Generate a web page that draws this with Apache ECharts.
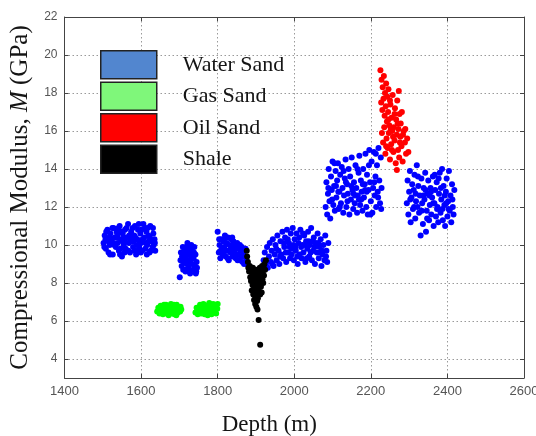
<!DOCTYPE html>
<html>
<head>
<meta charset="utf-8">
<script src="https://cdn.jsdelivr.net/npm/echarts@6/dist/echarts.min.js"></script>
<style>
html,body{margin:0;padding:0;background:#fff;}
#c{width:536px;height:436px;}
</style>
</head>
<body>
<div id="c"></div>
<script>
// ---- data (Depth m, Compressional modulus GPa) ----
var seriesNames = ['Water Sand', 'Gas Sand', 'Oil Sand', 'Shale'];
var xTicks = [1400, 1600, 1800, 2000, 2200, 2400, 2600];
var yTicks = [4, 6, 8, 10, 12, 14, 16, 18, 20, 22];

var waterSand1 = [[1502,10.1],[1505,10.5],[1508,9.8],[1510,10.3],[1512,10.8],[1515,9.6],[1518,10.0],[1520,10.6],[1523,10.2],[1526,9.5],[1528,10.9],[1531,10.4],[1534,9.9],[1536,10.7],[1539,10.1],[1542,9.7],[1544,11.0],[1547,10.3],[1550,9.4],[1552,10.6],[1555,10.0],[1558,10.8],[1560,9.8],[1563,10.4],[1566,11.1],[1568,10.1],[1571,9.6],[1574,10.7],[1576,10.2],[1579,9.9],[1582,10.5],[1584,11.0],[1587,9.5],[1590,10.3],[1592,10.8],[1595,9.9],[1598,10.6],[1600,10.1],[1603,9.7],[1606,11.1],[1608,10.4],[1611,9.8],[1614,10.7],[1616,10.0],[1619,10.5],[1622,9.6],[1624,11.0],[1627,10.2],[1630,9.9],[1632,10.6],[1635,10.3],[1637,9.7],
  [1504,9.9],[1509,10.7],[1514,10.2],[1519,9.5],[1525,10.9],[1530,10.0],[1535,10.4],[1541,10.9],[1546,9.8],[1551,10.2],[1557,9.6],[1562,10.9],[1567,9.7],[1573,10.3],[1578,10.9],[1583,9.7],[1589,10.0],[1594,11.1],[1599,9.6],[1604,10.3],[1610,10.9],[1615,9.5],[1620,10.2],[1625,9.7],[1631,10.9],[1636,10.1],
  [1507,10.3],[1517,10.4],[1527,10.1],[1538,10.5],[1548,10.7],[1558,10.2],[1569,10.5],[1580,10.2],[1591,9.7],[1601,10.8],[1612,10.1],[1623,10.4],[1633,10.0],[1545,9.5],[1585,10.4],[1617,10.9],[1555,10.4],[1596,10.2]];

var waterSand2 = [[1701,8.3],[1703,9.2],[1704,9.6],[1706,8.9],[1707,9.4],[1709,9.9],[1710,8.7],[1712,9.1],[1713,9.7],[1715,9.3],[1716,8.6],[1718,9.9],[1719,9.0],[1721,10.1],[1722,9.5],[1724,8.8],[1725,9.2],[1727,9.8],[1728,8.5],[1730,9.4],[1731,10.0],[1733,9.0],[1734,9.6],[1736,8.7],[1737,9.3],[1739,9.9],[1740,8.9],[1742,9.5],[1743,8.5],[1745,9.1],[1746,8.8],[1720,9.6],[1729,9.1],[1738,9.6],[1711,9.5],[1726,8.6],[1744,8.6],[1717,8.7],[1732,9.7],[1723,10.0]];

var waterSand3 = [[1800,10.7],[1803,9.6],[1805,10.0],[1807,9.3],[1809,10.3],[1811,9.8],[1813,9.5],[1815,10.2],[1817,9.9],[1819,10.5],[1821,9.4],[1823,10.1],[1825,9.7],[1827,10.4],[1829,9.2],[1831,10.0],[1833,9.6],[1835,10.3],[1837,9.9],[1839,9.4],[1841,10.2],[1843,9.7],[1845,10.0],[1847,9.3],[1849,9.8],[1851,10.1],[1853,9.5],[1855,9.9],[1857,9.2],[1859,9.7],[1861,9.4],[1863,9.9],[1865,9.1],[1867,9.6],[1869,9.0],[1871,9.4],[1873,9.8],[1875,9.2],[1877,9.0],[1808,9.7],[1816,9.6],[1826,9.3],[1834,9.8],[1844,9.5],[1852,9.2],[1804,10.3],[1822,10.4],[1838,10.4],[1858,10.0],[1866,9.7]];

var waterSand4 = [[1920,9.2],[1923,9.6],[1926,9.0],[1929,9.9],[1931,8.8],[1934,9.4],[1936,10.1],[1939,9.1],[1941,9.7],[1944,10.3],[1946,8.9],[1949,9.5],[1951,10.0],[1954,9.2],[1956,10.5],[1959,9.7],[1961,9.0],[1964,10.2],[1966,9.5],[1969,10.7],[1971,9.3],[1974,9.9],[1976,10.4],[1979,9.1],[1981,10.8],[1984,9.6],[1986,10.1],[1989,9.3],[1991,10.6],[1994,9.8],[1996,10.9],[1999,9.2],[2001,10.3],[2004,9.7],[2006,10.6],[2009,9.0],[2011,10.1],[2014,9.5],[2016,10.8],[2019,9.3],[2021,10.0],[2024,9.6],[2026,10.5],[2029,9.1],[2031,10.2],[2034,9.8],[2036,10.7],[2039,9.4],[2041,10.0],[2044,10.9],[2046,9.2],[2049,9.7],[2051,10.4],[2054,9.0],[2056,10.1],[2059,9.6],[2061,10.6],[2064,9.3],[2066,9.9],[2069,10.3],[2071,8.9],[2074,9.5],[2076,10.0],[2079,9.2],[2081,10.5],[2084,9.7],[2086,9.1],[2089,10.1],
  [1943,9.0],[1953,9.8],[1963,9.4],[1973,10.1],[1983,10.3],[1993,9.5],[2003,9.9],[2013,10.4],[2023,10.6],[2033,9.3],[2043,9.6],[2053,9.9],[2063,10.1],[2073,9.7],[2083,9.4],[1978,9.6],[1998,10.0],[2018,9.9],[2038,10.2],[2058,10.0],[1988,9.9],[2008,9.4],[2028,10.0],[2048,10.2],[2068,9.6]];

var waterSand5 = [[2082,12.0],[2084,13.3],[2086,11.6],[2088,12.7],[2090,14.0],[2092,12.3],[2094,11.4],[2096,13.6],[2098,12.9],[2100,14.4],[2102,12.1],[2104,13.1],[2106,11.8],[2108,13.9],[2110,12.5],[2112,13.4],[2114,14.3],[2116,11.9],[2118,12.8],[2120,13.7],[2122,12.2],[2124,14.1],[2126,13.0],[2128,11.7],[2130,12.6],[2132,13.5],[2134,14.5],[2136,12.0],[2138,13.2],[2140,12.7],[2142,14.0],[2144,11.6],[2146,13.6],[2148,12.4],[2150,14.6],[2152,12.9],[2154,11.9],[2156,13.3],[2158,12.2],[2160,14.2],[2162,13.0],[2164,11.7],[2166,12.6],[2168,13.8],[2170,14.7],[2172,12.1],[2174,13.4],[2176,12.8],[2178,11.8],[2180,14.0],[2182,12.5],[2184,13.2],[2186,14.8],[2188,12.0],[2190,13.7],[2192,11.6],[2194,12.9],[2196,15.0],[2198,13.3],[2200,12.3],[2202,14.4],[2204,11.7],[2206,13.0],[2208,14.9],[2210,12.6],[2212,13.6],[2214,12.0],[2216,14.2],[2218,12.8],[2220,15.1],[2222,13.4],[2224,12.2],[2226,14.6],[2228,13.0],
  [2089,13.0],[2099,12.4],[2109,13.1],[2119,12.0],[2129,13.9],[2139,12.3],[2149,13.1],[2159,12.6],[2169,12.4],[2179,13.2],[2189,12.8],[2199,11.6],[2209,13.3],[2219,12.5],[2227,11.9],[2115,12.8],[2135,13.3],[2155,12.7],[2175,12.4],[2195,14.2],[2213,14.8],[2105,14.3],[2165,14.0],[2185,12.9]];

var waterSand6 = [[2294,12.2],[2296,13.4],[2298,11.6],[2300,12.8],[2302,13.9],[2304,11.2],[2306,12.5],[2308,13.2],[2310,11.9],[2312,12.9],[2314,13.7],[2316,11.4],[2318,12.3],[2320,14.2],[2322,12.0],[2324,13.1],[2326,11.7],[2328,12.6],[2330,10.5],[2332,13.5],[2334,12.2],[2336,11.1],[2338,13.0],[2340,12.4],[2342,13.8],[2344,10.7],[2346,11.8],[2348,12.7],[2350,13.4],[2352,11.3],[2354,12.1],[2356,13.0],[2358,11.6],[2360,12.5],[2362,13.6],[2364,11.0],[2366,12.2],[2368,12.9],[2370,11.5],[2372,13.3],[2374,12.0],[2376,11.2],[2378,12.7],[2380,13.8],[2382,11.7],[2384,12.4],[2386,14.0],[2388,11.3],[2390,13.1],[2392,12.1],[2394,11.0],[2396,12.8],[2398,13.5],[2400,11.5],[2402,12.3],[2404,13.9],[2406,11.8],[2408,12.6],[2410,11.2],[2412,13.2],[2414,12.0],[2416,11.6],[2418,12.9],
  [2303,12.4],[2313,12.0],[2323,13.6],[2333,11.8],[2343,12.9],[2353,12.6],[2363,12.2],[2373,11.9],[2383,13.0],[2393,12.6],[2403,11.9],[2413,12.4],[2317,12.7],[2337,12.6],[2357,12.8],[2377,13.5],[2397,12.2],[2347,11.4],[2367,13.7],[2387,11.9]];

var gasSand1 = [[1642,6.5],[1645,6.7],[1648,6.4],[1651,6.8],[1654,6.55],[1657,6.35],[1660,6.85],[1663,6.6],[1666,6.4],[1669,6.75],[1672,6.3],[1675,6.55],[1678,6.9],[1681,6.45],[1684,6.7],[1687,6.35],[1690,6.6],[1693,6.85],[1696,6.45],[1699,6.7],[1702,6.5],[1705,6.6],[1650,6.55],[1659,6.6],[1668,6.55],[1677,6.4],[1686,6.85],[1695,6.6],[1703,6.75],[1665,6.85],[1680,6.65],[1692,6.3]];

var gasSand2 = [[1742,6.45],[1745,6.7],[1748,6.35],[1751,6.6],[1754,6.85],[1757,6.4],[1760,6.65],[1763,6.9],[1766,6.35],[1769,6.55],[1772,6.8],[1775,6.45],[1778,6.95],[1781,6.6],[1784,6.35],[1787,6.75],[1790,6.5],[1793,6.85],[1796,6.4],[1799,6.65],[1800,6.9],[1750,6.5],[1759,6.85],[1768,6.65],[1777,6.7],[1786,6.55],[1795,6.65],[1774,6.3],[1788,6.9]];

var oilSand = [[2225,19.2],[2228,18.7],[2231,18.3],[2234,18.9],[2237,18.0],[2240,18.5],[2243,17.8],[2246,18.2],[2250,17.6],[2273,18.1],[2227,17.5],[2230,17.1],[2233,17.7],[2236,16.8],[2239,17.3],[2242,16.5],[2245,17.0],[2248,16.3],[2251,17.4],[2254,16.7],[2257,17.9],[2260,16.2],[2263,17.2],[2266,16.6],[2269,17.6],[2272,16.1],[2275,16.9],[2278,16.4],[2281,17.0],[2229,15.9],[2232,15.4],[2235,16.2],[2238,14.8],[2241,15.6],[2244,15.1],[2247,15.9],[2250,14.5],[2253,15.3],[2256,16.0],[2259,14.9],[2262,15.5],[2265,14.3],[2268,15.8],[2271,15.0],[2274,14.6],[2277,15.7],[2280,15.2],[2283,14.4],[2286,16.0],[2289,15.4],[2292,14.8],[2295,15.6],[2298,14.9],[2268,13.95],[2258,15.7],[2270,16.4],[2246,16.6],[2255,15.0],[2284,15.8],[2262,16.9],[2290,16.1],[2240,15.2],[2252,16.1],[2276,15.4]];

var shale = [[1876,9.7],[1877,9.4],[1879,9.1],[1880,8.8],[1882,8.6],[1884,8.9],[1885,8.3],[1887,8.1],[1888,8.6],[1889,7.6],[1890,8.4],[1891,7.9],[1892,8.8],[1893,7.4],[1894,8.2],[1895,7.7],[1896,8.5],[1897,8.0],[1898,7.3],[1899,7.9],[1900,8.7],[1901,7.5],[1902,8.3],[1903,7.8],[1904,8.6],[1905,7.2],[1906,8.1],[1907,7.6],[1908,8.4],[1909,7.9],[1910,8.8],[1911,7.4],[1912,8.2],[1913,7.8],[1914,8.6],[1915,7.5],[1916,8.9],[1917,8.2],[1918,8.6],[1919,8.0],[1920,8.9],[1921,8.4],[1922,9.0],[1924,8.7],[1926,9.2],[1898,6.9],[1901,6.75],[1904,6.6],[1907,6.05],[1911,4.75],[1895,7.1],[1903,7.05]];

var waterSand = [].concat(waterSand1, waterSand2, waterSand3, waterSand4, waterSand5, waterSand6);
var gasSand = [].concat(gasSand1, gasSand2);

var chart = echarts.init(document.getElementById('c'), null, {renderer: 'canvas'});
var frameColor = '#444';
var gridLine = {show: true, lineStyle: {color: '#9a9a9a', type: [1.5, 2.5], width: 1}};
var serif = '"Liberation Serif","Times New Roman",serif';
var sans = '"Liberation Sans",Arial,sans-serif';
var symSize = 6;

chart.setOption({
  animation: false,
  backgroundColor: '#fff',
  grid: {left: 64.5, right: 12, top: 17, bottom: 58, containLabel: false, outerBoundsMode: 'none'},
  legend: {
    orient: 'vertical', left: 100, top: 50, padding: 0,
    icon: 'rect', itemWidth: 56, itemHeight: 28, itemGap: 2,
    selectedMode: false,
    textStyle: {fontFamily: serif, fontSize: 22, color: '#151515', padding: [0, 0, 0, 21]},
    data: [
      {name: seriesNames[0], itemStyle: {color: '#5286cf', borderColor: '#222', borderWidth: 1.5}},
      {name: seriesNames[1], itemStyle: {color: '#7ff77a', borderColor: '#222', borderWidth: 1.5}},
      {name: seriesNames[2], itemStyle: {color: '#ff0000', borderColor: '#222', borderWidth: 1.5}},
      {name: seriesNames[3], itemStyle: {color: '#000000', borderColor: '#222', borderWidth: 1.5}}
    ]
  },
  xAxis: [{
    type: 'value', min: xTicks[0], max: xTicks[xTicks.length - 1], interval: 200,
    axisLine: {show: true, onZero: false, lineStyle: {color: frameColor, width: 1}},
    axisTick: {show: true, inside: true, length: 4, lineStyle: {color: frameColor}},
    axisLabel: {color: '#555', fontFamily: sans, fontSize: 13, margin: 7, formatter: function (v) { return String(v); }},
    splitLine: gridLine,
    name: 'Depth (m)', nameLocation: 'middle', nameGap: 35,
    nameTextStyle: {fontFamily: serif, fontSize: 23, color: '#151515', padding: [0, 50, 0, 0]}
  }, {
    type: 'value', position: 'top', min: xTicks[0], max: xTicks[xTicks.length - 1], interval: 200,
    axisLine: {show: true, onZero: false, lineStyle: {color: frameColor, width: 1}},
    axisTick: {show: true, inside: true, length: 4, lineStyle: {color: frameColor}},
    axisLabel: {show: false}, splitLine: {show: false}
  }],
  yAxis: [{
    type: 'value', min: 3, max: 22,
    axisLine: {show: true, onZero: false, lineStyle: {color: frameColor, width: 1}},
    axisTick: {show: true, inside: true, length: 4, customValues: yTicks, lineStyle: {color: frameColor}},
    axisLabel: {color: '#555', fontFamily: sans, fontSize: 12, margin: 7, customValues: yTicks},
    splitLine: {show: true, customValues: yTicks, lineStyle: {color: '#9a9a9a', type: [1.5, 2.5], width: 1}},
    name: '{a|Compressional Modulus, }{i|M}{a| (GPa)}',
    nameLocation: 'middle', nameGap: 30, nameRotate: 90,
    nameTextStyle: {
      fontFamily: serif, fontSize: 25, color: '#151515',
      rich: {
        a: {fontFamily: serif, fontSize: 25, color: '#151515'},
        i: {fontFamily: serif, fontSize: 25, color: '#151515', fontStyle: 'italic'}
      }
    }
  }, {
    type: 'value', position: 'right', min: 3, max: 22,
    axisLine: {show: true, onZero: false, lineStyle: {color: frameColor, width: 1}},
    axisTick: {show: true, inside: true, length: 4, customValues: yTicks, lineStyle: {color: frameColor}},
    axisLabel: {show: false}, splitLine: {show: false}
  }],
  series: [
    {name: seriesNames[0], type: 'scatter', data: waterSand, symbolSize: symSize, itemStyle: {color: '#0000ff', opacity: 1}},
    {name: seriesNames[1], type: 'scatter', data: gasSand, symbolSize: symSize, itemStyle: {color: '#00ff00', opacity: 1}},
    {name: seriesNames[2], type: 'scatter', data: oilSand, symbolSize: symSize, itemStyle: {color: '#ff0000', opacity: 1}},
    {name: seriesNames[3], type: 'scatter', data: shale, symbolSize: symSize, itemStyle: {color: '#000000', opacity: 1}}
  ]
});
</script>
</body>
</html>
